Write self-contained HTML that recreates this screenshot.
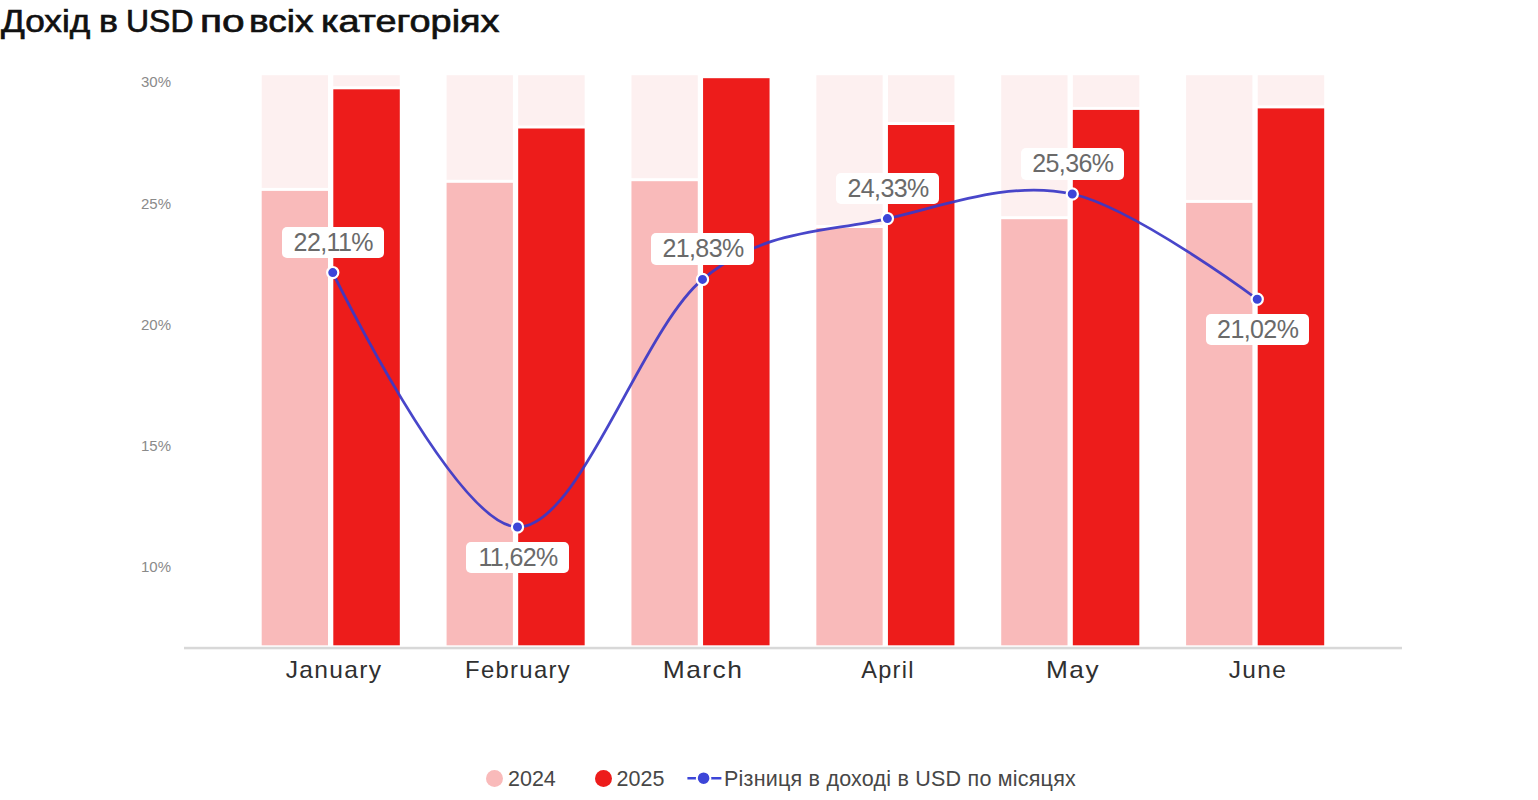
<!DOCTYPE html>
<html><head><meta charset="utf-8"><title>chart</title>
<style>
html,body{margin:0;padding:0;background:#fff;}
body{width:1538px;height:800px;position:relative;overflow:hidden;font-family:"Liberation Sans",sans-serif;}
svg{position:absolute;left:0;top:0;}
.tw{position:absolute;top:4.2px;font-size:30.5px;color:#111;white-space:nowrap;transform-origin:0 0;-webkit-text-stroke:0.65px #111;}
.title{position:absolute;left:0;top:4px;font-size:30.5px;font-weight:bold;color:#111;white-space:nowrap;line-height:36px;letter-spacing:0px;transform-origin:0 0;transform:scaleX(1.075);}
.vl{position:absolute;width:102.8px;height:31.6px;background:#fff;border-radius:5px;text-align:center;font-size:25px;line-height:30.1px;color:#6a6a6a;letter-spacing:-0.6px;text-indent:0.6px;white-space:nowrap;}
.ml{position:absolute;top:655.5px;width:200px;text-align:center;font-size:24px;line-height:28px;color:#303030;letter-spacing:1.3px;white-space:nowrap;}
.yl{position:absolute;left:71px;width:100px;text-align:right;font-size:15px;line-height:20px;color:#8a8a8a;white-space:nowrap;}
.lg{position:absolute;top:765.8px;font-size:21.5px;line-height:26px;color:#474747;white-space:nowrap;}
#lgt{letter-spacing:0.22px;}
.dot{position:absolute;width:17.4px;height:17.4px;border-radius:50%;top:769.5px;}
</style></head><body>
<svg width="1538" height="800" viewBox="0 0 1538 800">
<rect x="261.70" y="75.2" width="66.3" height="112.70" fill="#fdf0f0"/>
<rect x="261.70" y="190.9" width="66.3" height="454.40" fill="#f9baba"/>
<rect x="333.30" y="75.2" width="66.5" height="11.10" fill="#fdf0f0"/>
<rect x="333.30" y="89.3" width="66.5" height="556.00" fill="#ed1c1b"/>
<rect x="446.58" y="75.2" width="66.3" height="104.60" fill="#fdf0f0"/>
<rect x="446.58" y="182.8" width="66.3" height="462.50" fill="#f9baba"/>
<rect x="518.18" y="75.2" width="66.5" height="50.30" fill="#fdf0f0"/>
<rect x="518.18" y="128.5" width="66.5" height="516.80" fill="#ed1c1b"/>
<rect x="631.46" y="75.2" width="66.3" height="103.00" fill="#fdf0f0"/>
<rect x="631.46" y="181.2" width="66.3" height="464.10" fill="#f9baba"/>
<rect x="703.06" y="78.2" width="66.5" height="567.10" fill="#ed1c1b"/>
<rect x="816.34" y="75.2" width="66.3" height="149.80" fill="#fdf0f0"/>
<rect x="816.34" y="228.0" width="66.3" height="417.30" fill="#f9baba"/>
<rect x="887.94" y="75.2" width="66.5" height="46.80" fill="#fdf0f0"/>
<rect x="887.94" y="125.0" width="66.5" height="520.30" fill="#ed1c1b"/>
<rect x="1001.22" y="75.2" width="66.3" height="141.00" fill="#fdf0f0"/>
<rect x="1001.22" y="219.2" width="66.3" height="426.10" fill="#f9baba"/>
<rect x="1072.82" y="75.2" width="66.5" height="31.70" fill="#fdf0f0"/>
<rect x="1072.82" y="109.9" width="66.5" height="535.40" fill="#ed1c1b"/>
<rect x="1186.10" y="75.2" width="66.3" height="124.70" fill="#fdf0f0"/>
<rect x="1186.10" y="202.9" width="66.3" height="442.40" fill="#f9baba"/>
<rect x="1257.70" y="75.2" width="66.5" height="30.20" fill="#fdf0f0"/>
<rect x="1257.70" y="108.4" width="66.5" height="536.90" fill="#ed1c1b"/>
<rect x="184" y="646.8" width="1218" height="2.5" fill="#d8d8d8"/>
<path d="M332.75,272.6C332.75,272.60 455.88,525.87 517.5,527.0C579.12,528.13 640.85,330.80 702.5,279.4C764.15,228.00 825.77,232.83 887.4,218.6C949.02,204.37 1010.61,180.56 1072.25,194.0C1133.89,207.44 1257.25,299.25 1257.25,299.25" fill="none" stroke="#3a38c6" stroke-opacity="0.93" stroke-width="2.8" stroke-linecap="round"/>
<circle cx="332.75" cy="272.6" r="5.6" fill="#3c45d8" stroke="#fff" stroke-width="2.2"/>
<circle cx="517.5" cy="527.0" r="5.6" fill="#3c45d8" stroke="#fff" stroke-width="2.2"/>
<circle cx="702.5" cy="279.4" r="5.6" fill="#3c45d8" stroke="#fff" stroke-width="2.2"/>
<circle cx="887.4" cy="218.6" r="5.6" fill="#3c45d8" stroke="#fff" stroke-width="2.2"/>
<circle cx="1072.25" cy="194.0" r="5.6" fill="#3c45d8" stroke="#fff" stroke-width="2.2"/>
<circle cx="1257.25" cy="299.25" r="5.6" fill="#3c45d8" stroke="#fff" stroke-width="2.2"/>
<line x1="687.4" y1="778.2" x2="721.4" y2="778.2" stroke="#3c45d8" stroke-width="2.6"/>
<circle cx="703.6" cy="778.2" r="6.8" fill="#3c45d8" stroke="#fff" stroke-width="2"/>
</svg>
<span class="tw" style="left:0.70px;transform:scaleX(1.1526)">Дохід</span>
<span class="tw" style="left:99.06px;transform:scaleX(1.1692)">в</span>
<span class="tw" style="left:125.70px;transform:scaleX(1.0475)">USD</span>
<span class="tw" style="left:200.14px;transform:scaleX(1.3323)">по</span>
<span class="tw" style="left:249.48px;transform:scaleX(1.2118)">всіх</span>
<span class="tw" style="left:321.02px;transform:scaleX(1.2408)">категоріях</span>
<div class="vl" style="left:281.6px;top:226.6px">22,11%</div>
<div class="vl" style="left:466.4px;top:541.65px">11,62%</div>
<div class="vl" style="left:651.3px;top:233.2px">21,83%</div>
<div class="vl" style="left:836.4px;top:172.9px">24,33%</div>
<div class="vl" style="left:1021.1px;top:148.2px">25,36%</div>
<div class="vl" style="left:1206.0px;top:313.5px">21,02%</div>
<div class="ml" style="left:233.70px;transform:scaleX(1.023)">January</div>
<div class="ml" style="left:418.40px;transform:scaleX(0.995)">February</div>
<div class="ml" style="left:603.00px;transform:scaleX(1.1)">March</div>
<div class="ml" style="left:787.75px;transform:scaleX(0.98)">April</div>
<div class="ml" style="left:973.15px;transform:scaleX(1.094)">May</div>
<div class="ml" style="left:1157.65px;transform:scaleX(1.02)">June</div>
<div class="yl" style="top:71.8px">30%</div>
<div class="yl" style="top:193.5px">25%</div>
<div class="yl" style="top:314.7px">20%</div>
<div class="yl" style="top:435.5px">15%</div>
<div class="yl" style="top:557.2px">10%</div>
<div class="dot" style="left:486.1px;background:#f9baba"></div>
<div class="lg" style="left:508px">2024</div>
<div class="dot" style="left:595px;background:#ed1c1b"></div>
<div class="lg" style="left:616.6px">2025</div>
<div class="lg" id="lgt" style="left:724px">Різниця в доході в USD по місяцях</div>
</body></html>
